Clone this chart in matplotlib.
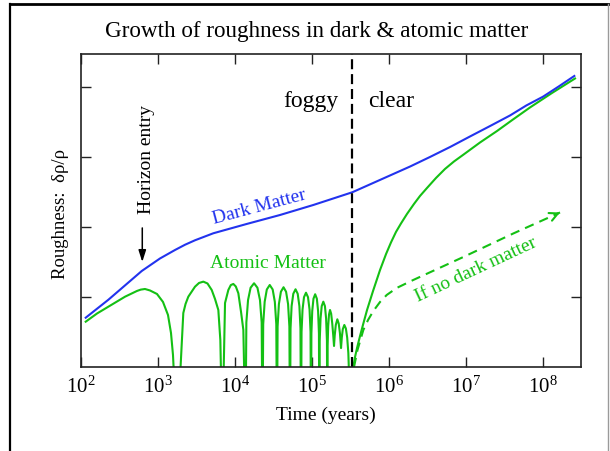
import numpy as np
import matplotlib
matplotlib.use("Agg")
import matplotlib.pyplot as plt
from matplotlib.lines import Line2D
from matplotlib.ticker import FixedLocator, LogFormatterMathtext, NullLocator

# time axis is stored as log10(years); roughness in units of one tick spacing
dark_logt = [2.065, 2.359, 2.793, 3.030, 3.225, 3.355, 3.485, 3.723, 4.157, 4.589,
             5.022, 5.27, 5.529, 5.77, 6.019, 6.28, 6.538, 6.80, 7.058, 7.32,
             7.578, 7.79, 8.006, 8.21, 8.413]
dark_rough = [0.704, 0.96, 1.371, 1.55, 1.671, 1.746, 1.81, 1.91, 2.043, 2.171,
              2.314, 2.403, 2.496, 2.614, 2.736, 2.864, 3.0, 3.143, 3.293, 3.443,
              3.593, 3.736, 3.861, 4.007, 4.157]

# acoustic oscillations of the atomic matter before decoupling (dips run off the bottom)
atomic_logt = [
    2.065, 2.212, 2.359, 2.576, 2.731, 2.78, 2.835, 2.900, 2.991, 3.069, 3.134, 3.173, 3.199, 3.251,
    3.333, 3.362, 3.398, 3.485, 3.537, 3.593, 3.647, 3.702, 3.745, 3.788, 3.814, 3.840,
    3.875, 3.918, 3.950, 3.983, 4.015, 4.048, 4.083, 4.113, 4.141,
    4.152, 4.174, 4.207, 4.252, 4.296, 4.329, 4.351, 4.362,
    4.371, 4.390, 4.418, 4.456, 4.494, 4.522, 4.541, 4.550,
    4.558, 4.575, 4.601, 4.635, 4.668, 4.694, 4.711, 4.719,
    4.726, 4.740, 4.762, 4.791, 4.819, 4.841, 4.855, 4.862,
    4.869, 4.882, 4.901, 4.927, 4.953, 4.973, 4.986, 4.992,
    4.997, 5.008, 5.024, 5.046, 5.068, 5.084, 5.095, 5.100,
    5.105, 5.116, 5.131, 5.152, 5.173, 5.188, 5.199, 5.204,
    5.208, 5.215, 5.226, 5.239, 5.254, 5.268, 5.281, 5.291,
    5.300, 5.314, 5.334, 5.352, 5.368, 5.382,
    5.392, 5.405, 5.425, 5.445, 5.462, 5.477, 5.486, 5.492,
]
atomic_rough = [
    0.647, 0.764, 0.861, 1.004, 1.086, 1.105, 1.114, 1.093, 1.043, 0.929, 0.743, 0.486, 0.171, -1,
    0.771, 0.9, 1.004, 1.147, 1.2, 1.219, 1.193, 1.1, 0.971, 0.814, 0.386, -1,
    0.914, 1.1, 1.17, 1.186, 1.15, 1.053, 0.786, 0.529, -1,
    0.636, 0.956, 1.132, 1.196, 1.132, 0.956, 0.636, -1,
    0.611, 0.931, 1.107, 1.171, 1.107, 0.931, 0.611, -1,
    0.579, 0.899, 1.075, 1.139, 1.075, 0.899, 0.579, -1,
    0.55, 0.87, 1.046, 1.11, 1.046, 0.87, 0.55, -1,
    0.501, 0.821, 0.997, 1.061, 0.997, 0.821, 0.501, -1,
    0.479, 0.799, 0.975, 1.039, 0.975, 0.799, 0.479, -1,
    0.373, 0.693, 0.869, 0.933, 0.869, 0.693, 0.373, -1,
    0.3, 0.58, 0.75, 0.814, 0.76, 0.62, 0.45, 0.3,
    0.45, 0.6, 0.681, 0.62, 0.48, 0.27,
    0.42, 0.54, 0.6, 0.55, 0.42, 0.2, -0.1, -1,
]

# atomic matter falling into the dark matter wells after decoupling
late_logt = [5.542, 5.564, 5.590, 5.629, 5.672, 5.720, 5.798, 5.889, 5.967, 6.031,
             6.096, 6.161, 6.239, 6.330, 6.408, 6.499, 6.616, 6.733, 6.850, 6.967,
             7.188, 7.409, 7.617, 7.837, 8.123, 8.422]
late_rough = [0.0, 0.143, 0.271, 0.443, 0.621, 0.814, 1.086, 1.386, 1.614, 1.779,
              1.929, 2.05, 2.186, 2.329, 2.443, 2.557, 2.7, 2.829, 2.936, 3.029,
              3.207, 3.371, 3.536, 3.707, 3.914, 4.121]

# growth without dark matter
nodm_logt = [5.551, 5.596, 5.672, 5.733, 5.802, 5.889, 5.976, 6.106, 6.321, 6.971, 7.620, 8.227]
nodm_rough = [0.0, 0.243, 0.529, 0.671, 0.8, 0.929, 1.029, 1.129, 1.243, 1.571, 1.907, 2.207]

time_ticks = [1e2, 1e3, 1e4, 1e5, 1e6, 1e7, 1e8]
t_decouple = 10 ** 5.521
t_horizon = 10 ** 2.80

BLUE = "#2233ee"
GREEN = "#14c014"

plt.rcParams["font.family"] = "Liberation Serif"
plt.rcParams["mathtext.fontset"] = "custom"
plt.rcParams["mathtext.rm"] = "Liberation Serif"
plt.rcParams["mathtext.it"] = "Liberation Serif:italic"

fig = plt.figure(figsize=(6.1, 4.51), dpi=100)
ax = fig.add_axes([0.1323, 0.1863, 0.8197, 0.694])

ax.plot(10 ** np.array(atomic_logt), atomic_rough, color=GREEN, lw=1.5)
ax.plot(10 ** np.array(late_logt), late_rough, color=GREEN, lw=1.5)
ax.plot(10 ** np.array(dark_logt), dark_rough, color=BLUE, lw=1.5)
ax.plot(10 ** np.array(nodm_logt), nodm_rough, color=GREEN, lw=1.5, dashes=(4.5, 3))

# arrow head at the end of the dashed curve
tip = (10 ** nodm_logt[-1], nodm_rough[-1])
tail = (10 ** (nodm_logt[-1] - 0.08 * (nodm_logt[-1] - nodm_logt[-2])),
        nodm_rough[-1] - 0.08 * (nodm_rough[-1] - nodm_rough[-2]))
ax.annotate("", xy=tip, xytext=tail,
            arrowprops=dict(arrowstyle="->", color=GREEN, lw=1.5, mutation_scale=15,
                            shrinkA=0, shrinkB=0))

ax.axvline(t_decouple, color="black", lw=1.6, dashes=(4.5, 2.2))

ax.annotate("", xy=(t_horizon, 1.5), xytext=(t_horizon, 1.986),
            arrowprops=dict(arrowstyle="-|>,head_length=0.5,head_width=0.16", color="black",
                            lw=1.1, mutation_scale=14, shrinkA=0, shrinkB=0))
ax.text(10 ** 2.861, 2.957, "Horizon entry", rotation=90, ha="center", va="center", fontsize=14)

ax.text(10 ** 5.347, 3.714, "foggy", ha="right", va="baseline", fontsize=17)
ax.text(10 ** 5.737, 3.714, "clear", ha="left", va="baseline", fontsize=17)
ax.text(10 ** 4.317, 2.286, "Dark Matter", color=BLUE, rotation=15, rotation_mode="anchor",
        ha="center", va="center", fontsize=14)
ax.text(10 ** 4.437, 1.41, "Atomic Matter", color=GREEN, ha="center", va="baseline", fontsize=14)
ax.text(10 ** 7.136, 1.386, "If no dark matter", color=GREEN, rotation=25,
        rotation_mode="anchor", ha="center", va="center", fontsize=14)

ax.set_xscale("log")
ax.set_xlim(1e2, 10 ** 8.496)
ax.set_ylim(0, 4.471)
ax.xaxis.set_major_locator(FixedLocator(time_ticks))
ax.xaxis.set_major_formatter(LogFormatterMathtext())
ax.xaxis.set_minor_locator(NullLocator())
ax.set_yticks([1, 2, 3, 4])
ax.set_yticklabels([])
ax.tick_params(which="both", direction="in", top=True, right=True, length=7, width=1.0,
               color="#222222", labelsize=15, pad=7)
for sp in ax.spines.values():
    sp.set_color("#222222")
    sp.set_linewidth(1.2)

ax.set_xlabel("Time (years)", fontsize=14)
ax.xaxis.set_label_coords(0.49, -0.128)
ax.set_ylabel("Roughness:  δρ/ρ", fontsize=13.5)
ax.yaxis.set_label_coords(-0.0244, 0.49)

fig.text(0.5197, 0.918, "Growth of roughness in dark & atomic matter", ha="center",
         va="baseline", fontsize=16.7)

# page frame around the figure
fig.add_artist(Line2D([0.0172, 0.0172], [0.0, 0.992], transform=fig.transFigure,
                      color="black", lw=1.6))
fig.add_artist(Line2D([0.0172, 0.997], [0.992, 0.992], transform=fig.transFigure,
                      color="black", lw=2.0))
fig.add_artist(Line2D([0.996, 0.996], [0.0, 0.992], transform=fig.transFigure,
                      color="#9a9a9a", lw=1.0))

fig.savefig("out.png", dpi=100)
